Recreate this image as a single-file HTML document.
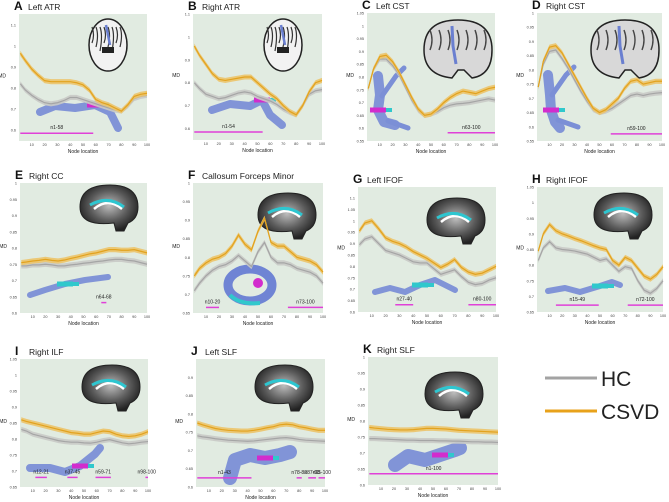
<!DOCTYPE html>
<html><head><meta charset="utf-8">
<style>
body{margin:0;background:#fff;width:669px;height:502px;overflow:hidden;font-family:"Liberation Sans",sans-serif}
svg{display:block}
</style></head><body>
<svg id="fig" width="669" height="502" viewBox="0 0 669 502" xmlns="http://www.w3.org/2000/svg">
<defs>
<radialGradient id="brainG" cx="50%" cy="45%" r="55%"><stop offset="0" stop-color="#bdbdbd"/><stop offset="0.6" stop-color="#5a5a5a"/><stop offset="1" stop-color="#222"/></radialGradient>
</defs>
<g>
<line x1="545" y1="378" x2="597" y2="378" stroke="#a3a3a3" stroke-width="3"/>
<text x="601" y="386" font-size="21" fill="#222">HC</text>
<line x1="545" y1="411" x2="597" y2="411" stroke="#e8a21a" stroke-width="3"/>
<text x="601" y="419" font-size="21" fill="#222">CSVD</text>
</g>
</svg>
<script>
const nodes=[1,5,10,15,20,25,30,35,40,45,50,55,60,65,70,75,80,85,90,95,100];
const xTicks=[10,20,30,40,50,60,70,80,90,100];
const csvdA=[0.965,0.93,0.89,0.86,0.835,0.83,0.83,0.83,0.83,0.825,0.815,0.79,0.745,0.73,0.72,0.705,0.69,0.72,0.76,0.77,0.775];
const hcA=[0.82,0.79,0.765,0.745,0.73,0.725,0.73,0.74,0.755,0.755,0.745,0.735,0.725,0.715,0.705,0.695,0.69,0.715,0.75,0.76,0.765];
const csvdB=[0.96,0.92,0.88,0.84,0.815,0.81,0.815,0.82,0.825,0.825,0.8,0.775,0.75,0.73,0.7,0.675,0.66,0.7,0.76,0.8,0.81];
const hcB=[0.8,0.775,0.75,0.74,0.73,0.735,0.745,0.755,0.76,0.755,0.74,0.73,0.72,0.705,0.685,0.67,0.66,0.7,0.75,0.765,0.77];
const csvdC=[0.755,0.83,0.88,0.885,0.86,0.82,0.77,0.72,0.675,0.65,0.655,0.675,0.7,0.72,0.735,0.745,0.74,0.735,0.745,0.755,0.76];
const hcC=[0.755,0.83,0.87,0.87,0.845,0.81,0.76,0.71,0.67,0.65,0.655,0.665,0.68,0.69,0.695,0.697,0.7,0.705,0.71,0.715,0.71];
const csvdD=[0.74,0.83,0.88,0.885,0.86,0.82,0.78,0.74,0.7,0.665,0.65,0.66,0.68,0.7,0.735,0.76,0.765,0.75,0.755,0.76,0.76];
const hcD=[0.74,0.82,0.865,0.87,0.84,0.805,0.765,0.725,0.69,0.66,0.65,0.655,0.665,0.68,0.695,0.71,0.715,0.71,0.715,0.718,0.72];
const csvdE=[0.755,0.757,0.76,0.762,0.765,0.762,0.76,0.763,0.768,0.772,0.777,0.782,0.785,0.79,0.795,0.795,0.793,0.793,0.795,0.79,0.785];
const hcE=[0.745,0.745,0.748,0.748,0.75,0.748,0.745,0.745,0.748,0.75,0.753,0.755,0.758,0.76,0.763,0.765,0.765,0.762,0.76,0.755,0.75];
const csvdF=[0.75,0.77,0.785,0.795,0.8,0.81,0.83,0.86,0.835,0.82,0.87,0.905,0.84,0.83,0.83,0.815,0.8,0.795,0.79,0.78,0.76];
const hcF=[0.71,0.73,0.75,0.765,0.775,0.78,0.79,0.805,0.79,0.775,0.815,0.84,0.8,0.785,0.785,0.78,0.77,0.765,0.76,0.75,0.73];
const csvdG=[0.955,0.99,1.0,0.965,0.925,0.91,0.9,0.885,0.865,0.85,0.835,0.815,0.795,0.81,0.83,0.795,0.775,0.765,0.77,0.785,0.8];
const hcG=[0.895,0.92,0.93,0.9,0.87,0.86,0.85,0.835,0.82,0.815,0.815,0.79,0.765,0.775,0.785,0.755,0.73,0.72,0.725,0.74,0.75];
const csvdH=[0.845,0.9,0.93,0.91,0.9,0.893,0.885,0.878,0.87,0.862,0.855,0.85,0.815,0.8,0.825,0.815,0.79,0.765,0.755,0.77,0.795];
const hcH=[0.815,0.855,0.875,0.855,0.85,0.848,0.845,0.84,0.835,0.825,0.815,0.82,0.8,0.78,0.795,0.79,0.75,0.72,0.71,0.725,0.75];
const csvdI=[0.86,0.855,0.85,0.845,0.84,0.835,0.83,0.825,0.82,0.818,0.815,0.815,0.82,0.825,0.823,0.815,0.81,0.808,0.81,0.815,0.823];
const hcI=[0.83,0.825,0.815,0.81,0.805,0.8,0.795,0.792,0.79,0.79,0.788,0.787,0.79,0.795,0.798,0.793,0.788,0.785,0.787,0.79,0.792];
const csvdJ=[0.775,0.77,0.765,0.76,0.757,0.755,0.754,0.753,0.753,0.755,0.758,0.762,0.765,0.77,0.772,0.77,0.765,0.762,0.758,0.755,0.755];
const hcJ=[0.74,0.737,0.735,0.732,0.73,0.728,0.727,0.726,0.725,0.726,0.728,0.73,0.732,0.734,0.735,0.733,0.73,0.728,0.727,0.726,0.725];
const csvdK=[0.78,0.778,0.776,0.774,0.773,0.772,0.772,0.773,0.775,0.777,0.777,0.776,0.775,0.773,0.771,0.77,0.769,0.768,0.767,0.766,0.765];
const hcK=[0.745,0.745,0.744,0.743,0.742,0.741,0.74,0.74,0.739,0.739,0.739,0.738,0.738,0.737,0.737,0.736,0.735,0.735,0.734,0.734,0.733];
const segStarts={A:[1],B:[1],C:[63],D:[59],E:[64],F:[10,73],G:[27,80],H:[15,72],I:[12,37,59,98],J:[1,78,87,95],K:[1]};
const segEnds={A:[58],B:[54],C:[100],D:[100],E:[68],F:[20,100],G:[40,100],H:[49,100],I:[21,45,71,100],J:[43,82,93,100],K:[100]};

const NS='http://www.w3.org/2000/svg';
const svg=document.getElementById('fig');
function mk(tag,attrs,parent){const e=document.createElementNS(NS,tag);for(const k in attrs)e.setAttribute(k,attrs[k]);(parent||svg).appendChild(e);return e;}

const panels=[
 {id:'A',title:'Left ATR',x0:19,x1:147,y0:14,y1:141,ymin:0.548,ymax:1.152,ticks:[0.6,0.7,0.8,0.9,1,1.1],csvd:csvdA,hc:hcA,segY:0.585,brain:'axial',bx:108,by:45,tract:[[40,112],[55,106],[75,108],[95,105],[110,112],[118,128]]},
 {id:'B',title:'Right ATR',x0:193,x1:322,y0:14,y1:140,ymin:0.55,ymax:1.1,ticks:[0.6,0.7,0.8,0.9,1,1.1],csvd:csvdB,hc:hcB,segY:0.585,brain:'axial',bx:283,by:45,tract:[[212,110],[230,104],[250,106],[262,100],[270,115],[282,125]]},
 {id:'C',title:'Left CST',x0:367,x1:495,y0:13,y1:141,ymin:0.55,ymax:1.05,ticks:[0.55,0.6,0.65,0.7,0.75,0.8,0.85,0.9,0.95,1,1.05],csvd:csvdC,hc:hcC,segY:0.582,brain:'coronal',bx:458,by:50,tract:[[378,76],[380,95],[378,110],[384,122],[395,125]],branch:true},
 {id:'D',title:'Right CST',x0:537,x1:662,y0:13,y1:141,ymin:0.55,ymax:1.0,ticks:[0.55,0.6,0.65,0.7,0.75,0.8,0.85,0.9,0.95,1],csvd:csvdD,hc:hcD,segY:0.575,brain:'coronal',bx:625,by:50,tract:[[548,75],[550,95],[551,110],[555,122],[560,128]],branch:true},
 {id:'E',title:'Right CC',x0:20,x1:147,y0:183,y1:313,ymin:0.6,ymax:1.0,ticks:[0.6,0.65,0.7,0.75,0.8,0.85,0.9,0.95,1],csvd:csvdE,hc:hcE,segY:0.632,brain:'sag',bx:108,by:205,tract:[[30,295],[45,290],[65,284],[85,280],[108,277]],tube:true},
 {id:'F',title:'Callosum Forceps Minor',x0:193,x1:323,y0:183,y1:313,ymin:0.65,ymax:1.0,ticks:[0.65,0.7,0.75,0.8,0.85,0.9,0.95,1],csvd:csvdF,hc:hcF,segY:0.665,brain:'sag',bx:286,by:213,ring:[250,285]},
 {id:'G',title:'Left IFOF',x0:358,x1:496,y0:187,y1:312,ymin:0.6,ymax:1.148,ticks:[0.6,0.65,0.7,0.75,0.8,0.85,0.9,0.95,1,1.05,1.1],csvd:csvdG,hc:hcG,segY:0.632,brain:'sag',bx:455,by:218,tract:[[375,292],[390,288],[405,292],[420,285],[435,280],[455,290]],tube:true},
 {id:'H',title:'Right IFOF',x0:537,x1:663,y0:187,y1:312,ymin:0.65,ymax:1.05,ticks:[0.65,0.7,0.75,0.8,0.85,0.9,0.95,1,1.05],csvd:csvdH,hc:hcH,segY:0.672,brain:'sag',bx:622,by:213,tract:[[548,291],[565,288],[580,292],[600,286],[612,282],[620,285]],tube:true},
 {id:'I',title:'Right ILF',x0:20,x1:148,y0:359,y1:487,ymin:0.65,ymax:1.05,ticks:[0.65,0.7,0.75,0.8,0.85,0.9,0.95,1,1.05],csvd:csvdI,hc:hcI,segY:0.68,brain:'sag',bx:110,by:385,tract:[[30,468],[50,468],[65,472],[80,466],[95,454],[100,448]]},
 {id:'J',title:'Left SLF',x0:196,x1:325,y0:359,y1:487,ymin:0.6,ymax:0.95,ticks:[0.6,0.65,0.7,0.75,0.8,0.85,0.9],csvd:csvdJ,hc:hcJ,segY:0.625,brain:'sag',bx:283,by:385,tract:[[230,478],[235,460],[250,455],[265,458],[280,455],[290,452]],blob:true},
 {id:'K',title:'Right SLF',x0:368,x1:498,y0:357,y1:485,ymin:0.6,ymax:1.0,ticks:[0.6,0.65,0.7,0.75,0.8,0.85,0.9,0.95,1],csvd:csvdK,hc:hcK,segY:0.635,brain:'sag',bx:453,by:392,tract:[[395,465],[408,456],[425,460],[440,455],[455,450],[460,448]],blob:true}
];

function fmt(v){return (Math.round(v*100)/100).toString();}

panels.forEach(p=>{
 const g=mk('g',{});
 
 
 const xs=n=>p.x0+(n-0)/(100-0)*(p.x1-p.x0);
 const ys=v=>p.y1-(v-p.ymin)/(p.ymax-p.ymin)*(p.y1-p.y0);
 const bg=mk('rect',{x:p.x0,y:p.y0,width:p.x1-p.x0,height:p.y1-p.y0,fill:'#e1ebe1'},g);
 
 
 const lt=mk('text',{x:p.x0-5,y:p.y0-4,'font-size':12,'font-weight':'bold',fill:'#111'},g);lt.textContent=p.id;
 
 
 const tt=mk('text',{x:p.x0+9,y:p.y0-4,'font-size':8.5,fill:'#222'},g);tt.textContent=p.title;
 
 
 p.ticks.forEach(t=>{
  const tx=mk('text',{x:p.x0-3,y:ys(t)+1.5,'font-size':3.8,'text-anchor':'end',fill:'#444'},g);tx.textContent=fmt(t);
  
  
 });
 xTicks.forEach(t=>{
  const tx=mk('text',{x:xs(t),y:p.y1+5,'font-size':3.8,'text-anchor':'middle',fill:'#444'},g);tx.textContent=t;
  
  
 });
 const xl=mk('text',{x:(p.x0+p.x1)/2,y:p.y1+12,'font-size':5,'text-anchor':'middle',fill:'#222'},g);xl.textContent='Node location';
 
 
 const yl=mk('text',{x:p.x0-13,y:(p.y0+p.y1)/2,'font-size':5,'text-anchor':'end',fill:'#222'},g);yl.textContent='MD';
 
 

 if(p.brain==='axial'){
  const b=mk('ellipse',{cx:p.bx,cy:p.by,rx:19,ry:26,fill:'#f2f2f2',stroke:'#222','stroke-width':1.5},g);
  
  
  for(let i=0;i<8;i++){mk('path',{d:`M${p.bx-16+i*4},${p.by-18} q3,8 0,${16+(i%3)*4}`,stroke:'#333','stroke-width':1.2,fill:'none'},g);}
  mk('rect',{x:p.bx-6,y:p.by+2,width:12,height:6,fill:'#222'},g);
  mk('path',{d:`M${p.bx-2},${p.by-20} L${p.bx+2},${p.by}`,stroke:'#6a7fd0','stroke-width':2.5},g);
 } else if(p.brain==='coronal'){
  const b=mk('path',{d:`M${p.bx-34},${p.by} q0,-30 34,-30 q34,0 34,30 q0,25 -20,28 l-8,-8 l-6,0 l-6,8 q-28,-3 -28,-28z`,fill:'#d8d8d8',stroke:'#222','stroke-width':1.5},g);
  
  
  for(let i=0;i<7;i++){mk('path',{d:`M${p.bx-28+i*9},${p.by-20} q4,10 0,20`,stroke:'#444','stroke-width':1.4,fill:'none'},g);}
  mk('path',{d:`M${p.bx-6},${p.by-24} L${p.bx-5},${p.by-4} L${p.bx-2},${p.by+14}`,stroke:'#6a7fd0','stroke-width':3,fill:'none'},g);
 } else {
  const b=mk('path',{d:`M${p.bx-28},${p.by+2} q0,-22 30,-22 q28,0 28,22 q0,12 -10,16 l-4,8 l-8,0 l-2,-8 q-34,4 -34,-16z`,fill:'url(#brainG)',stroke:'#222','stroke-width':1},g);
  
  
  mk('path',{d:`M${p.bx-14},${p.by+4} q14,-12 28,0`,stroke:'#fff','stroke-width':2.5,fill:'none'},g);
  mk('path',{d:`M${p.bx-18},${p.by} q18,-10 34,2`,stroke:'#2ec6d0','stroke-width':3,fill:'none'},g);
 }

 if(p.tract){
  const d='M'+p.tract.map(q=>q.join(',')).join(' L');
  const t=mk('path',{d:d,stroke:'#7b8fd6',fill:'none','stroke-width':p.blob?14:(p.tube?6:(p.branch?10:8)),'stroke-linejoin':'round','stroke-linecap':'round',opacity:0.95},g);
  
  
  if(p.branch){
   const s=p.tract[0];
   mk('path',{d:`M${s[0]+4},${s[1]+20} L${s[0]+18},${s[1]} L${s[0]+26},${s[1]-8}`,stroke:'#7b8fd6','stroke-width':5,fill:'none','stroke-linecap':'round'},g);
   mk('path',{d:`M${s[0]+10},${s[1]+45} L${s[0]+30},${s[1]+52}`,stroke:'#7b8fd6','stroke-width':5,fill:'none','stroke-linecap':'round'},g);
  }
  const mid=p.tract[Math.floor(p.tract.length/2)];
  mk('path',{d:`M${mid[0]-8},${mid[1]} L${mid[0]+8},${mid[1]}`,stroke:p.tube?'#30c8cc':'#d22ccd','stroke-width':5},g);
  mk('path',{d:`M${mid[0]+8},${mid[1]} L${mid[0]+14},${mid[1]}`,stroke:'#30c8cc','stroke-width':4},g);
 }
 if(p.ring){
  const r=mk('ellipse',{cx:p.ring[0],cy:p.ring[1],rx:22,ry:16,fill:'none',stroke:'#6f84d4','stroke-width':9},g);
  
  
  mk('circle',{cx:p.ring[0]+8,cy:p.ring[1]-2,r:5,fill:'#d22ccd'},g);
  mk('path',{d:`M${p.ring[0]-20},${p.ring[1]+10} q10,10 30,8`,stroke:'#30c8cc','stroke-width':4,fill:'none'},g);
 }

 [['hc',p.hc,'#a5a5a5','#c9cac6'],['csvd',p.csvd,'#e2a21e','#ecc46a']].forEach(([nm,vals,lc,bc])=>{
  const h=(p.ymax-p.ymin)*0.02;
  const up=nodes.map((n,i)=>xs(n)+','+ys(vals[i]+h));
  const dn=nodes.map((n,i)=>xs(n)+','+ys(vals[i]-h)).reverse();
  const band=mk('polygon',{points:up.concat(dn).join(' '),fill:bc,opacity:0.9},g);
  
  
  const ln=mk('polyline',{points:nodes.map((n,i)=>xs(n)+','+ys(vals[i])).join(' '),fill:'none',stroke:lc,'stroke-width':1.2},g);
  
  
 });

 segStarts[p.id].forEach((s,i)=>{
  const e=segEnds[p.id][i];
  const sl=mk('line',{x1:xs(s),x2:xs(e),y1:ys(p.segY),y2:ys(p.segY),stroke:'#e040d8','stroke-width':1.5},g);
  
  
  const lb=mk('text',{x:(xs(s)+xs(e))/2,y:ys(p.segY)-4,'font-size':5,'text-anchor':'middle',fill:'#222'},g);
  lb.textContent='n'+s+'-'+e;
  
  
 });
});
</script>
</body></html>
